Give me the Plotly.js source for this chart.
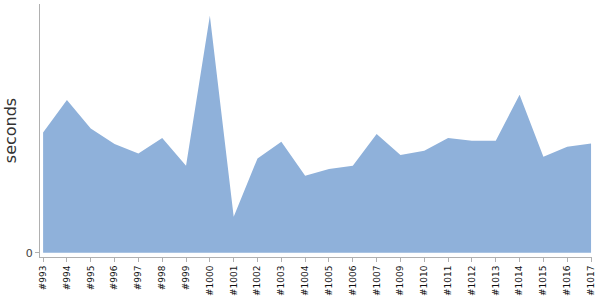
<!DOCTYPE html>
<html>
<head>
<meta charset="utf-8">
<script src="https://cdn.plot.ly/plotly-3.0.1.min.js"></script>
<style>html,body{margin:0;padding:0;background:#fff;}#chart{width:600px;height:300px;}</style>
</head>
<body>
<div id="chart"></div>
<script>
const builds = ["#993","#994","#995","#996","#997","#998","#999","#1000","#1001","#1002","#1003","#1004","#1005","#1006","#1007","#1009","#1010","#1011","#1012","#1013","#1014","#1015","#1016","#1017"];
const seconds = [120.3,152.7,124.3,108.7,99.3,114.7,87,237,36,94.3,111,77,83.7,87,118.7,97.7,102,114.7,112,112,158,96,106,109.3];
const yTickVals = [0];
const yTickText = ["0"];

const trace = {
  x: builds,
  y: seconds,
  type: 'scatter',
  mode: 'lines',
  fill: 'tozeroy',
  fillcolor: 'rgb(143,177,218)',
  line: {width: 0, color: 'rgb(143,177,218)'},
  hoverinfo: 'x+y'
};

const layout = {
  width: 600, height: 300,
  margin: {l: 40, r: 8, t: 4, b: 43},
  paper_bgcolor: '#fff', plot_bgcolor: '#fff',
  showlegend: false,
  font: {family: 'DejaVu Sans', color: '#000'},
  xaxis: {
    type: 'category',
    range: [-0.13, 23.04],
    showgrid: false, zeroline: false,
    showline: true, linecolor: '#b0b0b0', linewidth: 1,
    ticks: 'outside', ticklen: 4, tickcolor: '#b0b0b0',
    tickangle: -90,
    tickfont: {family: 'DejaVu Sans', size: 9, color: '#111'}
  },
  yaxis: {
    range: [-4.3, 248.7],
    showgrid: false, zeroline: false,
    showline: true, linecolor: '#b0b0b0', linewidth: 1,
    ticks: 'outside', ticklen: 4, tickcolor: '#b0b0b0',
    tickvals: yTickVals, ticktext: yTickText,
    tickfont: {family: 'DejaVu Sans', size: 11, color: '#444'},
    title: {text: 'seconds', font: {family: 'DejaVu Sans', size: 16, color: '#333'}, standoff: 5}
  }
};

Plotly.newPlot('chart', [trace], layout, {displayModeBar: false, staticPlot: true});
</script>
</body>
</html>
